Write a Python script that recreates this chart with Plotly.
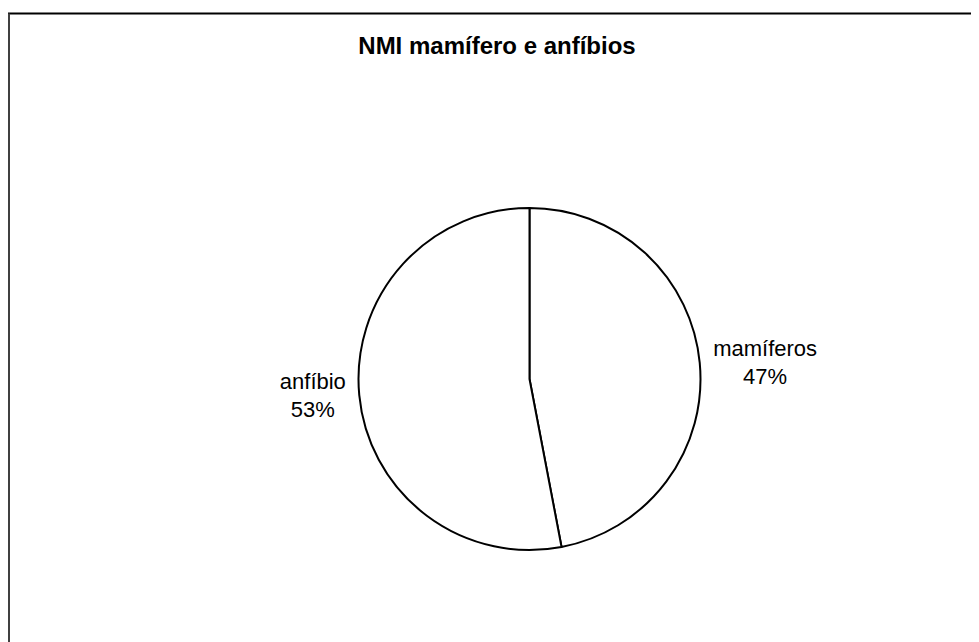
import plotly.graph_objects as go

categories = ["mamíferos", "anfíbio"]
values = [47, 53]
title_text = "NMI mamífero e anfíbios"

# page body has an 8px margin; work in page pixel coords and subtract it
OFF = 8
W, H = 971, 634
cx, cy, r = 529.5 - OFF, 379 - OFF, 171

fig = go.Figure(go.Pie(
    labels=categories,
    values=values,
    sort=False,
    direction="clockwise",
    rotation=0,
    texttemplate="%{label}<br>%{percent:.0%}",
    textposition="outside",
    outsidetextfont=dict(family="Liberation Sans, Arial", size=22, color="black"),
    marker=dict(colors=["white", "white"], line=dict(color="black", width=2)),
    domain=dict(x=[(cx - r) / W, (cx + r) / W], y=[(H - cy - r) / H, (H - cy + r) / H]),
    showlegend=False,
    hoverinfo="label+percent",
))

fig.update_layout(
    width=W, height=H,
    margin=dict(l=0, r=0, t=0, b=0),
    paper_bgcolor="white",
    plot_bgcolor="white",
    title=dict(text="<b>" + title_text + "</b>", x=(497 - OFF) / W, xanchor="center",
               y=1 - (46 - OFF) / H, yanchor="middle",
               font=dict(family="Liberation Sans, Arial", size=24, color="black")),
    shapes=[
        dict(type="line", xref="paper", yref="paper", x0=0, x1=1,
             y0=1 - (13.5 - OFF) / H, y1=1 - (13.5 - OFF) / H,
             line=dict(color="black", width=2)),
        dict(type="line", xref="paper", yref="paper", x0=1 / W, x1=1 / W,
             y0=1 - (13.5 - OFF) / H, y1=0,
             line=dict(color="#404040", width=2)),
    ],
)

fig.write_html("out.html")
